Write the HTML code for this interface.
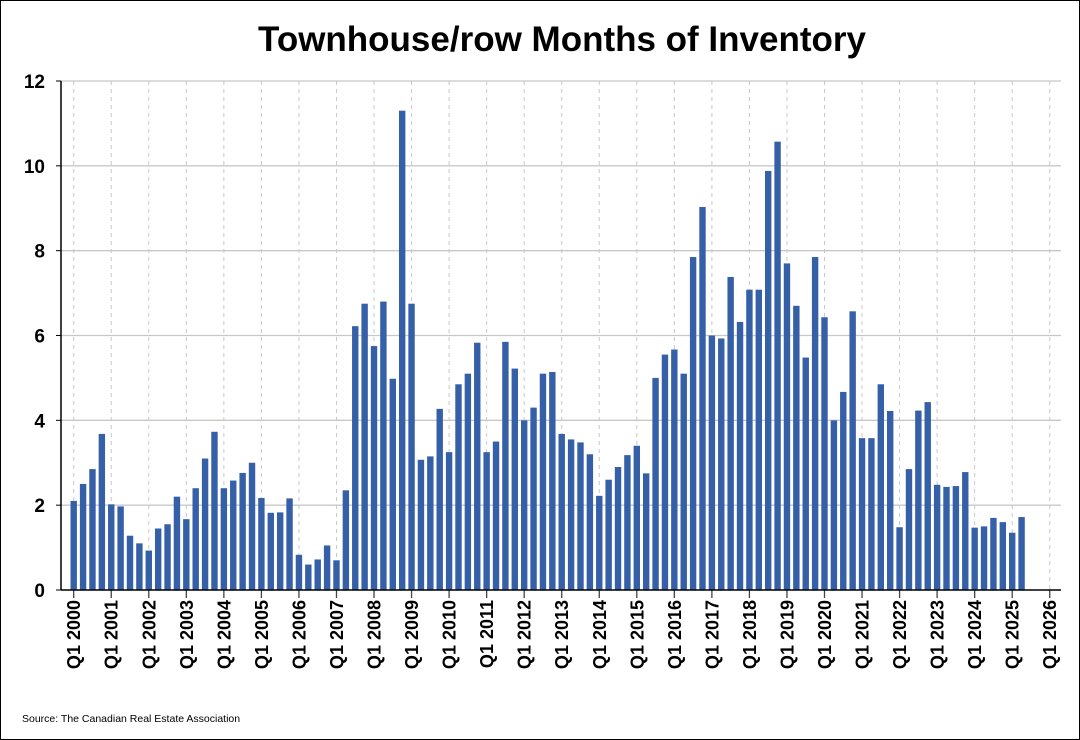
<!DOCTYPE html>
<html><head><meta charset="utf-8"><style>
body{margin:0;background:#fff;font-family:"Liberation Sans",Arial,sans-serif}
#wrap{width:1078px;height:738px;border:1px solid #000;position:relative;overflow:hidden}
</style></head><body>
<div id="wrap">
<svg id="chart" width="1078" height="738"></svg>
</div>
<script>
const categories=[];for(let y=2000;y<=2025;y++)for(let q=1;q<=4;q++){if(y===2025&&q>2)break;categories.push('Q'+q+' '+y);}
const values=[2.1,2.5,2.85,3.68,2.02,1.97,1.28,1.1,0.93,1.45,1.55,2.2,1.67,2.4,3.1,3.73,2.4,2.58,2.76,3.0,2.17,1.82,1.83,2.16,0.83,0.6,0.72,1.05,0.7,2.35,6.22,6.75,5.75,6.8,4.98,11.3,6.75,3.07,3.15,4.27,3.25,4.85,5.1,5.83,3.25,3.5,5.85,5.22,4.0,4.3,5.1,5.14,3.68,3.55,3.48,3.2,2.22,2.6,2.9,3.18,3.4,2.75,5.0,5.55,5.67,5.1,7.85,9.03,6.0,5.93,7.38,6.32,7.08,7.08,9.88,10.57,7.7,6.7,5.48,7.85,6.43,4.0,4.67,6.57,3.58,3.58,4.85,4.22,1.48,2.85,4.23,4.43,2.48,2.43,2.45,2.78,1.47,1.5,1.7,1.6,1.35,1.72];
const yTicks=[0,2,4,6,8,10,12];
const xTickYears=[2000,2001,2002,2003,2004,2005,2006,2007,2008,2009,2010,2011,2012,2013,2014,2015,2016,2017,2018,2019,2020,2021,2022,2023,2024,2025,2026];
const NS='http://www.w3.org/2000/svg';
const svg=document.getElementById('chart');
const X0=72.7,QW=9.385,Y0=589,YS=(589-80)/12;
const xs=i=>X0+i*QW, ys=v=>Y0-v*YS;
function mk(t,a,p){const e=document.createElementNS(NS,t);for(const k in a)e.setAttribute(k,a[k]);(p||svg).appendChild(e);return e;}
let t=mk('text',{x:561,y:50,'text-anchor':'middle','font-size':35,'font-weight':'bold',fill:'#000'});t.textContent='Townhouse/row Months of Inventory';


yTicks.forEach(v=>{if(v>0){const l=mk('line',{x1:60,x2:1060,y1:ys(v),y2:ys(v),stroke:'#c8c8c8','stroke-width':1.3});

}
const tk=mk('line',{x1:55,x2:60,y1:ys(v),y2:ys(v),stroke:'#000'});


const tx=mk('text',{x:44,y:ys(v)+7,'text-anchor':'end','font-size':19,'font-weight':'bold'});tx.textContent=v;

});
xTickYears.forEach(yr=>{const x=xs((yr-2000)*4);
const g=mk('line',{x1:x,x2:x,y1:80,y2:Y0,stroke:'#c8c8c8','stroke-dasharray':'4,4'});


const tk=mk('line',{x1:x,x2:x,y1:Y0,y2:Y0+8,stroke:'#444','stroke-width':1.3});


const tx=mk('text',{x:0,y:0,'text-anchor':'end','font-size':18,'font-weight':'bold',transform:'translate('+(x+6.5)+','+(Y0+10)+') rotate(-90)'});tx.textContent='Q1 '+yr;

});
values.forEach((v,i)=>{const b=mk('rect',{x:xs(i)-3.2,y:ys(v),width:6.4,height:Y0-ys(v),fill:'#3560a8'});

});
let ax=mk('line',{x1:60,x2:60,y1:80,y2:Y0,stroke:'#000','stroke-width':1.5});


ax=mk('line',{x1:60,x2:1060,y1:Y0,y2:Y0,stroke:'#000','stroke-width':1.5});


t=mk('text',{x:21,y:721,'font-size':10.5});t.textContent='Source: The Canadian Real Estate Association';


</script>
</body></html>
